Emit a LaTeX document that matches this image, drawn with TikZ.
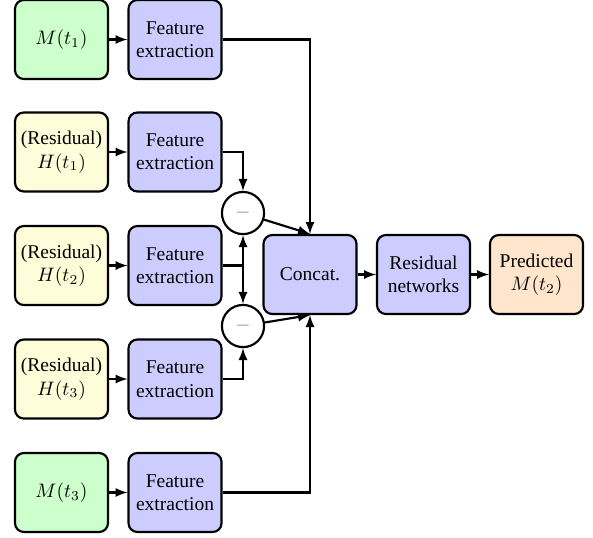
\documentclass[tikz,border=0pt]{standalone}
\usepackage{fontspec}
\setmainfont{Liberation Serif}
\tikzset{
  box/.style={draw, line width=1.1pt, rounded corners=0.16cm, minimum width=1.676cm, minimum height=1.424cm, inner sep=1pt, align=center, font=\normalsize},
  inbox/.style={box, fill=green!20},
  resbox/.style={box, fill=yellow!15},
  featbox/.style={box, fill=blue!20},
  outbox/.style={box, fill=orange!20},
  minusnode/.style={draw, circle, line width=1.1pt, fill=white, minimum size=0.76cm, inner sep=0pt},
  arr/.style={-latex, line width=1.1pt}
}
\begin{document}
\begin{tikzpicture}
                \useasboundingbox (0,0) rectangle (10.686000,9.677000);

                % Input boxes
                \node [inbox] (a1) at (1.108000,8.965000) {$M(t_1)$};
                \node [resbox] (a2) at (1.108000,6.938000) {(Residual)\\$H(t_1)$};
                \node [resbox] (a3) at (1.108000,4.892000) {(Residual)\\$H(t_2)$};
                \node [resbox] (a4) at (1.108000,2.847000) {(Residual)\\$H(t_3)$};
                \node [inbox] (a5) at (1.108000,0.802000) {$M(t_3)$};

                % Feature extraction boxes
                \node [featbox] (f1) at (3.154000,8.965000) {Feature\\extraction};
                \node [featbox] (f2) at (3.154000,6.938000) {Feature\\extraction};
                \node [featbox] (f3) at (3.154000,4.892000) {Feature\\extraction};
                \node [featbox] (f4) at (3.154000,2.847000) {Feature\\extraction};
                \node [featbox] (f5) at (3.154000,0.802000) {Feature\\extraction};

                % Difference circles
                \node [minusnode] (m1) at (4.379000,5.838000) {\textcolor{gray}{$-$}};
                \node [minusnode] (m2) at (4.379000,3.802000) {\textcolor{gray}{$-$}};

                % Right chain
                \node [featbox] (concat) at (5.586000,4.730000) {Concat.};
                \node [featbox] (resnet) at (7.632000,4.730000) {Residual\\networks};
                \node [outbox] (pred) at (9.668000,4.730000) {Predicted\\$M(t_2)$};

                % Drawing input arrows
                \foreach \i in {1,...,5} {
                  \draw [arr] (a\i) -- (f\i);
                }

                % Drawing feature connectors
                \draw [arr] (f1.east) -| (concat.north);
                \draw [arr] (f2.east) -| (m1.north);
                \draw [arr] (f3.east) -| (m1.south);
                \draw [arr] (f3.east) -| (m2.north);
                \draw [arr] (f4.east) -| (m2.south);
                \draw [arr] (f5.east) -| (concat.south);

                % Drawing differences into concat
                \draw [arr] (m1) -- (concat.north);
                \draw [arr] (m2) -- (concat.south);

                % Drawing output chain
                \draw [arr] (concat) -- (resnet);
                \draw [arr] (resnet) -- (pred);
\end{tikzpicture}
\end{document}
